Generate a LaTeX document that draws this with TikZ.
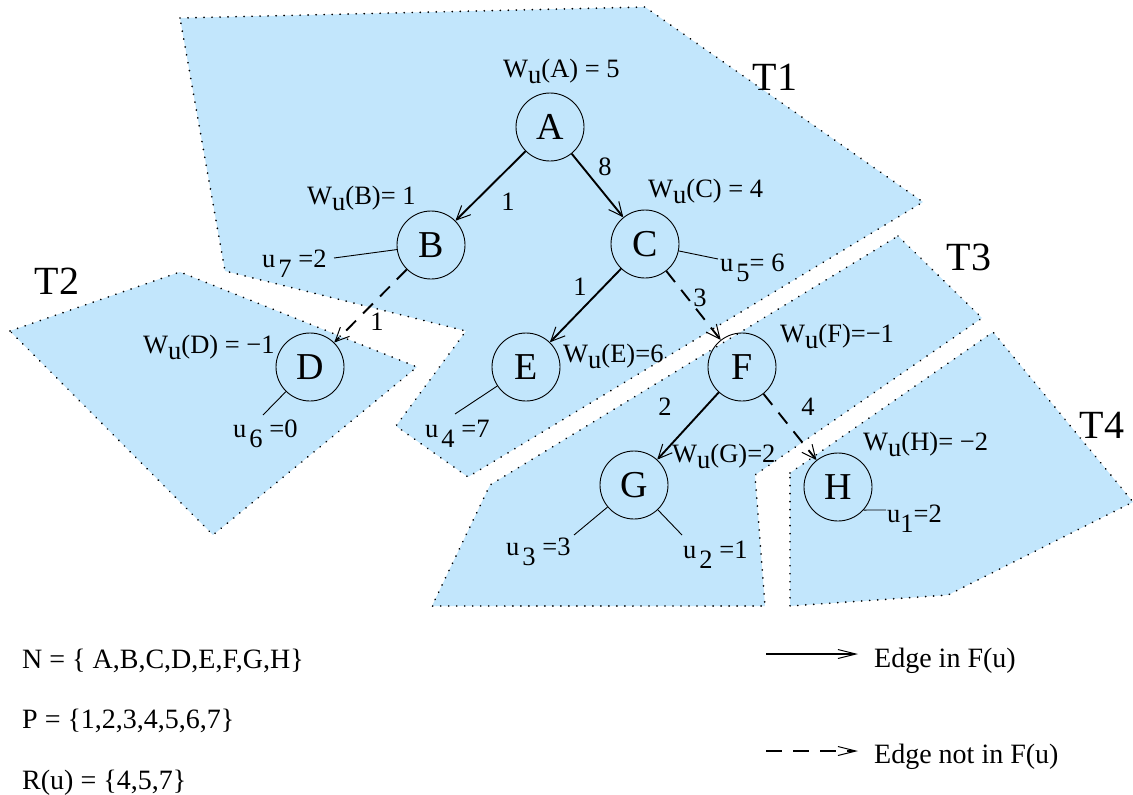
\documentclass[tikz,border=0pt]{standalone}
\usepackage{fontspec}
\setmainfont{Liberation Serif}
\usetikzlibrary{arrows.meta}
\definecolor{regionblue}{RGB}{194,230,252}
\newcommand\Wu{W\lower6pt\hbox{u}}
\newcommand\usb[1]{u\kern3pt\lower10pt\hbox{#1}}
\newcommand\usc[1]{u\lower10pt\hbox{#1}}
\begin{document}
\begin{tikzpicture}[x=1pt,y=-1pt,
  region/.style={fill=regionblue, draw=black, line width=1.9pt, line cap=round, dash pattern=on 0.01pt off 8pt},
  vertex/.style={circle, draw, line width=0.9pt, minimum size=68pt, inner sep=0pt, font=\fontsize{38}{40}\selectfont},
  lbl/.style={anchor=base west, inner sep=0pt, font=\fontsize{26.5}{30}\selectfont},
  elbl/.style={inner sep=0pt, font=\fontsize{26.5}{30}\selectfont},
  treelbl/.style={inner sep=0pt, font=\fontsize{40}{44}\selectfont},
  leg/.style={anchor=base west, inner sep=0pt, font=\fontsize{28}{32}\selectfont},
  inF/.style={line width=1.9pt, -{Straight Barb[length=14pt,width=13pt,line width=1pt]}},
  notF/.style={inF, dash pattern=on 14pt off 10pt},
  leginF/.style={line width=1.9pt, -{Straight Barb[length=18pt,width=9pt,line width=1pt]}},
  legnotF/.style={leginF, dash pattern=on 16pt off 11pt},
  ulink/.style={line width=0.9pt},
]
\useasboundingbox (0,0) rectangle (1133,795);
% regions
\draw[region] (180,18) -- (645,7) -- (923,202) -- (468,477) -- (396,426) -- (466,331) -- (225,271) -- cycle;
\draw[region] (10,331) -- (180,272) -- (417,367) -- (213,535) -- cycle;
\draw[region] (898,236) -- (982,318) -- (755,475) -- (765,606) -- (432,606) -- (490,485) -- cycle;
\draw[region] (790,473) -- (993,332) -- (1133,502) -- (948,595) -- (790,606) -- cycle;
% region names
\node[treelbl] (t1) at (775,77) {T1};
\node[treelbl] (t2) at (57,281) {T2};
\node[treelbl] (t3) at (969,257) {T3};
\node[treelbl] (t4) at (1102,425) {T4};
% vertices
\node[vertex] (A) at (550,127) {A};
\node[vertex] (B) at (431,245) {B};
\node[vertex] (C) at (645,244) {C};
\node[vertex] (D) at (310,367) {D};
\node[vertex] (E) at (526,367) {E};
\node[vertex] (F) at (742,367) {F};
\node[vertex] (G) at (634,485) {G};
\node[vertex] (H) at (838,487) {H};
% weights
\node[lbl] (wa) at (503,77) {\Wu(A) = 5};
\node[lbl] (wb) at (307,204) {\Wu(B)= 1};
\node[lbl] (wc) at (648,197) {\Wu(C) = 4};
\node[lbl] (wd) at (143,353) {\Wu(D) = −1};
\node[lbl] (we) at (563,362) {\Wu(E)=6};
\node[lbl] (wf) at (780,342) {\Wu(F)=−1};
\node[lbl] (wg) at (672,462) {\Wu(G)=2};
\node[lbl] (wh) at (863,450) {\Wu(H)= −2};
% u labels
\node[lbl] (u7) at (262,267) {\usb{7} =2};
\node[lbl] (u6) at (233,437) {\usb{6} =0};
\node[lbl] (u4) at (425,437) {\usb{4} =7};
\node[lbl] (u5) at (720,271) {\usb{5}= 6};
\node[lbl] (u3) at (506,555) {\usb{3} =3};
\node[lbl] (u2) at (683,558) {\usb{2} =1};
\node[lbl] (u1) at (887,522) {\usc{1}=2};
\coordinate (e7) at (334,258);
\coordinate (e6) at (263,415);
\coordinate (e4) at (455,414);
\coordinate (e5) at (718,259);
\coordinate (e3) at (574,535);
\coordinate (e2) at (682,535);
\coordinate (e1) at (886,510);
\draw[ulink] (B) -- (e7);
\draw[ulink] (D) -- (e6);
\draw[ulink] (E) -- (e4);
\draw[ulink] (C) -- (e5);
\draw[ulink] (G) -- (e3);
\draw[ulink] (G) -- (e2);
\draw[ulink] (H.-42.6) -- (e1);
% edges
\draw[inF] (A) -- (B);
\draw[inF] (A) -- (C);
\draw[notF] (B) -- (D);
\draw[inF] (C) -- (E);
\draw[notF] (C) -- (F);
\draw[inF] (F) -- (G);
\draw[notF] (F) -- (H);
% edge labels
\node[elbl] (lab) at (508,202) {1};
\node[elbl] (lac) at (605,167) {8};
\node[elbl] (lbd) at (377,322) {1};
\node[elbl] (lce) at (580,287) {1};
\node[elbl] (lcf) at (700,298) {3};
\node[elbl] (lfg) at (665,407) {2};
\node[elbl] (lfh) at (808,407) {4};
% legend
\node[leg] (n) at (22,668) {N = \{ A,B,C,D,E,F,G,H\}};
\node[leg] (p) at (22,728) {P = \{1,2,3,4,5,6,7\}};
\node[leg] (r) at (22,789) {R(u) = \{4,5,7\}};
\coordinate (l1s) at (766,654);
\coordinate (l1e) at (858,654);
\coordinate (l2s) at (766,751);
\coordinate (l2e) at (858,751);
\draw[leginF] (l1s) -- (l1e);
\draw[legnotF] (l2s) -- (l2e);
\node[leg] (lg1) at (874,667) {Edge in F(u)};
\node[leg] (lg2) at (874,763) {Edge not in F(u)};
\end{tikzpicture}
\end{document}
